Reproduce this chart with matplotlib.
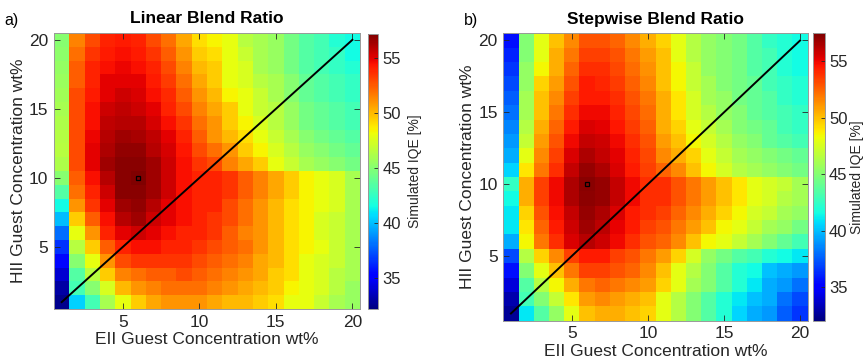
import numpy as np
import matplotlib
matplotlib.use("Agg")
import matplotlib.pyplot as plt

plt.rcParams["font.family"] = ["Liberation Sans", "DejaVu Sans"]

# concentrations (wt%)
eii = list(range(1, 21))
hii = list(range(20, 0, -1))   # rows below go top (20) to bottom (1)

# simulated IQE [%], linear blend ratio
iqe_linear = [
    [45.0, 51.5, 53.0, 54.0, 54.2, 54.0, 53.0, 52.0, 50.5, 49.0, 48.5, 48.0, 46.5, 46.0, 45.5, 44.5, 43.5, 43.0, 42.0, 41.5],
    [45.2, 52.0, 53.5, 54.2, 54.5, 54.2, 53.5, 52.5, 51.0, 49.5, 49.0, 48.0, 47.0, 46.0, 45.5, 44.5, 43.5, 43.0, 42.5, 41.5],
    [45.4, 52.5, 54.0, 54.5, 54.8, 54.5, 54.0, 53.0, 51.5, 50.0, 49.5, 48.0, 47.5, 46.0, 45.5, 44.5, 43.5, 43.0, 42.5, 42.0],
    [45.6, 52.5, 54.0, 55.0, 55.0, 55.0, 54.2, 53.3, 52.0, 50.5, 49.5, 48.0, 47.5, 46.5, 46.0, 45.0, 44.0, 43.5, 43.0, 42.5],
    [45.8, 53.0, 54.2, 55.0, 55.5, 55.2, 54.5, 53.8, 52.5, 51.0, 50.0, 48.5, 48.0, 47.0, 46.0, 45.0, 44.0, 43.5, 43.0, 42.5],
    [46.0, 53.0, 54.5, 55.5, 55.8, 55.5, 55.0, 54.0, 53.0, 51.5, 50.5, 49.5, 48.0, 47.0, 46.5, 45.5, 44.5, 44.0, 43.5, 43.0],
    [46.2, 53.0, 54.5, 55.8, 56.0, 56.0, 55.3, 54.5, 53.5, 52.0, 51.0, 49.5, 48.5, 47.5, 46.5, 45.5, 44.5, 44.0, 43.5, 43.0],
    [46.4, 53.0, 54.8, 56.0, 56.5, 56.3, 55.8, 55.0, 54.0, 52.5, 51.0, 50.0, 49.0, 48.0, 47.0, 46.0, 45.0, 44.5, 44.0, 43.5],
    [46.5, 53.0, 55.0, 56.2, 56.8, 56.8, 56.0, 55.3, 54.3, 53.0, 52.0, 51.0, 49.5, 48.5, 47.5, 46.5, 45.5, 45.0, 44.5, 44.0],
    [46.2, 53.0, 55.0, 56.5, 57.0, 57.0, 56.5, 55.5, 54.5, 53.5, 53.0, 51.5, 50.5, 49.5, 48.0, 47.0, 46.0, 45.5, 45.0, 44.5],
    [45.0, 52.5, 54.5, 56.0, 57.0, 57.2, 56.5, 55.5, 54.5, 54.0, 54.0, 53.5, 52.5, 51.5, 50.5, 49.5, 48.5, 48.0, 47.5, 46.0],
    [43.5, 52.0, 54.0, 55.5, 57.0, 57.0, 56.5, 55.5, 54.5, 54.0, 54.0, 53.5, 52.5, 51.5, 50.5, 49.5, 48.5, 48.0, 47.5, 46.0],
    [41.5, 51.0, 53.5, 55.0, 56.5, 56.8, 56.0, 55.0, 54.5, 54.0, 54.0, 53.0, 52.0, 51.0, 50.0, 49.0, 48.5, 48.0, 47.5, 46.0],
    [40.0, 49.5, 52.5, 54.5, 56.0, 56.5, 55.5, 55.0, 54.5, 54.0, 53.5, 53.0, 52.0, 51.0, 50.0, 49.0, 48.5, 47.5, 47.0, 46.0],
    [38.0, 48.0, 51.0, 54.0, 55.0, 55.5, 55.0, 54.5, 54.0, 54.0, 53.5, 52.5, 51.5, 51.0, 50.0, 49.0, 48.5, 47.5, 47.0, 46.0],
    [36.5, 46.5, 49.5, 52.5, 54.0, 54.5, 54.5, 54.0, 54.0, 53.5, 53.0, 52.5, 52.0, 51.0, 50.0, 49.0, 48.5, 48.0, 47.0, 46.0],
    [35.5, 45.0, 48.0, 51.0, 53.0, 53.5, 53.5, 53.5, 53.5, 53.0, 52.5, 52.0, 51.5, 50.5, 50.0, 49.0, 48.0, 47.5, 47.0, 46.0],
    [34.0, 43.5, 46.5, 49.5, 51.5, 52.0, 52.5, 52.5, 53.0, 52.5, 52.0, 51.5, 51.0, 50.5, 49.5, 49.0, 48.0, 47.5, 46.5, 46.0],
    [33.0, 43.0, 45.0, 47.5, 50.0, 51.0, 51.5, 52.0, 52.0, 52.0, 51.5, 51.0, 50.5, 50.0, 49.5, 48.5, 48.0, 47.5, 46.5, 45.5],
    [32.5, 40.5, 43.0, 46.0, 48.0, 49.5, 50.5, 51.0, 51.0, 51.0, 50.5, 50.0, 50.0, 49.5, 49.0, 48.0, 48.0, 47.0, 46.0, 45.5],
]

# simulated IQE [%], stepwise blend ratio
iqe_stepwise = [
    [35.5, 45.0, 48.0, 50.0, 51.5, 53.0, 53.0, 52.5, 51.5, 50.5, 49.5, 48.0, 46.5, 45.5, 45.0, 44.5, 43.5, 42.5, 42.0, 41.5],
    [36.0, 45.0, 48.0, 50.5, 52.0, 53.5, 53.5, 53.0, 52.0, 51.0, 50.0, 48.0, 46.5, 45.5, 45.0, 44.5, 43.5, 43.0, 42.0, 41.5],
    [36.5, 45.5, 48.5, 50.5, 52.5, 54.0, 54.0, 53.3, 52.3, 51.3, 50.0, 48.5, 47.0, 45.5, 45.0, 44.5, 43.5, 43.0, 42.0, 41.5],
    [37.0, 45.5, 49.5, 51.0, 53.0, 54.5, 54.2, 53.6, 52.6, 51.6, 50.0, 48.5, 47.0, 46.0, 45.0, 44.5, 44.0, 43.0, 42.5, 42.0],
    [37.5, 46.0, 50.0, 51.5, 53.5, 54.5, 54.5, 54.0, 53.0, 52.0, 50.5, 49.0, 47.5, 46.0, 45.5, 44.5, 44.0, 43.5, 42.5, 42.0],
    [38.0, 46.0, 50.0, 52.0, 54.0, 55.0, 55.0, 54.3, 53.3, 52.3, 50.5, 49.0, 47.5, 46.5, 45.5, 45.0, 44.0, 43.5, 43.0, 42.5],
    [38.5, 46.5, 50.5, 52.5, 54.5, 55.5, 55.3, 54.6, 53.6, 52.6, 50.5, 49.5, 48.0, 47.0, 46.0, 45.0, 44.5, 44.0, 43.0, 42.5],
    [39.0, 47.0, 51.0, 53.0, 55.0, 56.0, 55.8, 55.0, 54.0, 53.0, 51.0, 50.0, 48.5, 47.5, 46.5, 45.5, 45.0, 44.0, 43.5, 43.0],
    [39.5, 48.0, 51.5, 53.5, 55.5, 56.5, 56.0, 55.3, 54.3, 53.3, 51.5, 50.5, 49.5, 48.0, 47.0, 46.0, 45.5, 45.0, 44.5, 44.0],
    [40.5, 49.0, 52.0, 54.0, 56.0, 57.0, 56.5, 55.5, 54.5, 53.5, 52.5, 51.5, 50.0, 48.5, 47.5, 46.5, 46.0, 45.5, 45.0, 44.5],
    [42.5, 50.5, 53.5, 55.0, 56.5, 57.3, 57.0, 56.0, 55.0, 54.0, 54.0, 53.0, 52.0, 51.0, 50.0, 49.0, 48.0, 47.5, 47.0, 46.0],
    [41.5, 50.5, 53.5, 55.0, 56.5, 57.2, 57.0, 56.0, 55.0, 54.0, 54.0, 53.0, 52.0, 51.0, 50.0, 49.0, 48.0, 47.5, 46.5, 46.0],
    [41.0, 49.5, 53.0, 54.8, 56.0, 57.0, 56.5, 55.5, 54.5, 54.0, 53.5, 52.5, 51.5, 50.5, 49.5, 48.5, 47.5, 47.0, 46.0, 45.5],
    [41.0, 49.0, 52.5, 54.5, 55.8, 56.8, 56.2, 55.2, 54.5, 53.5, 53.0, 52.0, 51.0, 50.0, 48.5, 48.0, 47.0, 46.0, 45.5, 44.5],
    [39.5, 48.5, 52.0, 54.0, 55.5, 56.3, 55.8, 55.0, 54.0, 53.0, 52.5, 51.5, 50.0, 48.5, 48.0, 47.0, 46.0, 45.0, 44.0, 43.0],
    [37.0, 46.5, 49.5, 51.5, 53.5, 54.5, 54.5, 53.5, 53.0, 52.0, 51.0, 49.5, 47.5, 45.5, 44.5, 43.5, 43.0, 42.0, 41.5, 41.0],
    [35.5, 45.0, 48.0, 50.0, 52.0, 53.5, 53.5, 53.0, 52.5, 51.5, 50.0, 48.0, 46.5, 45.0, 43.5, 42.0, 41.5, 40.0, 39.5, 39.0],
    [34.0, 43.5, 46.5, 48.5, 50.5, 52.0, 52.5, 52.0, 51.5, 51.0, 49.5, 48.0, 46.0, 45.0, 43.5, 42.0, 41.0, 39.5, 39.0, 38.0],
    [33.0, 43.0, 45.0, 47.0, 49.0, 51.0, 51.5, 51.0, 50.5, 50.0, 48.0, 46.5, 45.0, 43.5, 42.0, 41.0, 40.0, 39.5, 38.0, 37.0],
    [32.5, 41.0, 43.5, 45.5, 48.0, 50.0, 50.5, 50.5, 50.0, 49.5, 48.0, 46.5, 45.0, 43.5, 42.0, 40.5, 39.5, 39.0, 37.5, 36.5],
]

# best point marker and equal-ratio diagonal
best_eii, best_hii = 6, 10
diag = [1, 20]

ticks = [5, 10, 15, 20]
cbar_ticks = [35, 40, 45, 50, 55]
txt = "#262626"


def panel(ax, cax, data, vmin, vmax, title, letter, lx, ly, cpad):
    mesh = ax.pcolormesh(eii, hii, np.array(data), cmap="jet", vmin=vmin, vmax=vmax,
                         shading="nearest")
    ax.plot(diag, diag, color="black", lw=1.4)
    ax.plot(best_eii, best_hii, marker="s", ms=3.5, mfc="none", mec="black", mew=0.9)
    ax.set_xlim(0.5, 20.5)
    ax.set_ylim(0.5, 20.5)
    ax.set_xticks(ticks)
    ax.set_yticks(ticks)
    ax.tick_params(direction="in", top=True, right=True, labelsize=12.5,
                   colors=txt, length=4, width=0.6, pad=4)
    for s in ax.spines.values():
        s.set_color("0.6")
        s.set_linewidth(0.7)
    ax.set_title(title, fontsize=12.5, fontweight="bold", color="black", pad=7)
    ax.set_xlabel("EII Guest Concentration wt%", fontsize=12.5, color=txt, labelpad=2)
    ax.set_ylabel("HII Guest Concentration wt%", fontsize=12.5, color=txt, labelpad=2)

    cb = plt.colorbar(mesh, cax=cax)
    cb.set_ticks(cbar_ticks)
    cb.ax.tick_params(direction="in", labelsize=12, colors=txt, length=3, width=0.6, pad=3)
    cb.outline.set_edgecolor("0.6")
    cb.outline.set_linewidth(0.7)
    cb.set_label("Simulated IQE [%]", fontsize=10, color=txt, labelpad=cpad)

    fig.text(lx, ly, letter, fontsize=11.5, color="black", ha="left", va="center")


fig = plt.figure(figsize=(8.66, 3.6), dpi=100)

ax_a = fig.add_axes([0.0624, 0.1417, 0.3533, 0.7667])
cax_a = fig.add_axes([0.4250, 0.1417, 0.0118, 0.7640])
panel(ax_a, cax_a, iqe_linear, 32.2, 57.2, "Linear Blend Ratio", "a)", 0.005, 0.944, 5)

ax_b = fig.add_axes([0.5812, 0.1092, 0.3515, 0.7983])
cax_b = fig.add_axes([0.9390, 0.1092, 0.0135, 0.7983])
panel(ax_b, cax_b, iqe_stepwise, 32.0, 57.5, "Stepwise Blend Ratio", "b)", 0.536, 0.944, 2)

fig.savefig("out.png", dpi=100)
